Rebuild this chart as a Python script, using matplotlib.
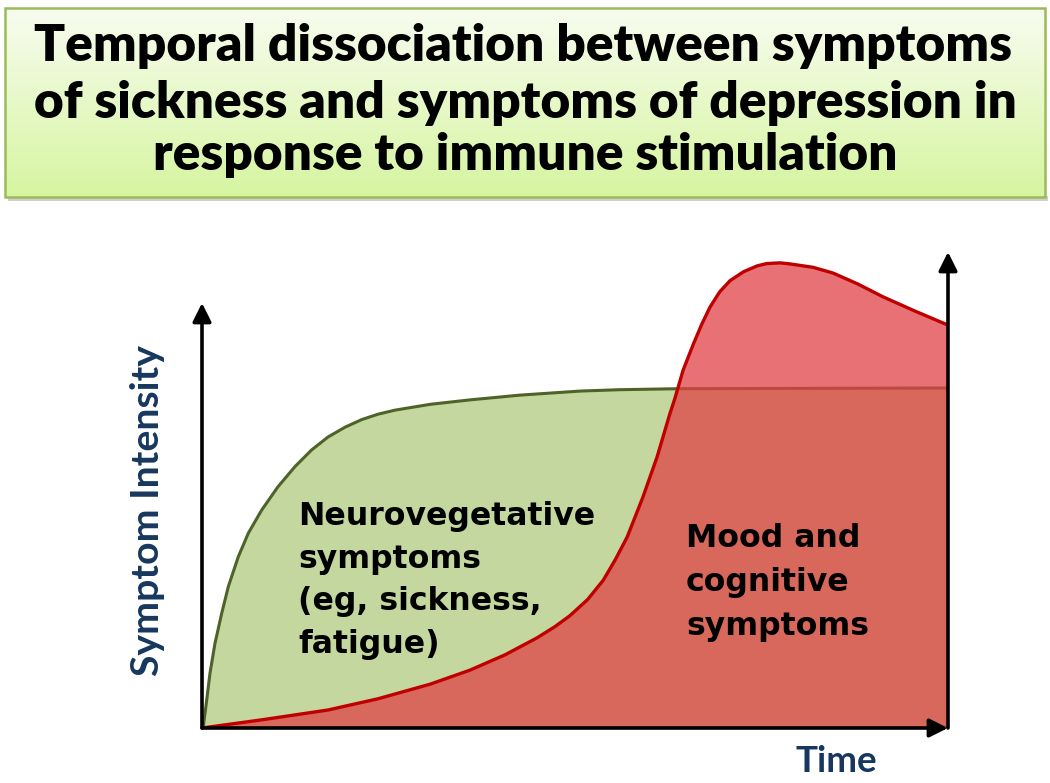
import numpy as np
import matplotlib
matplotlib.use("Agg")
import matplotlib.pyplot as plt
from matplotlib.patches import Rectangle

plt.rcParams['font.family'] = ['DejaVu Sans']

# ---- data ----
title_lines = ["Temporal dissociation between symptoms",
               "of sickness and symptoms of depression in",
               "response to immune stimulation"]
y_label = "Symptom Intensity"
x_label = "Time"
green_lines = ["Neurovegetative", "symptoms", "(eg, sickness,", "fatigue)"]
red_lines = ["Mood and", "cognitive", "symptoms"]

time_green = [0, 0.17, 0.63, 1.07, 1.74, 2.64, 3.53, 4.87, 6.21, 8.0, 10.2,
              12.47, 14.7, 16.9, 19.2, 21.4, 23.6, 25.9, 30.6, 35.9, 42.6,
              50.7, 56.0, 64.1, 100]
intensity_green = [0, 0.4, 8.2, 16.1, 24.9, 33.7, 41.6, 50.4, 57.3, 64.1, 71.0,
                   76.9, 81.8, 85.6, 88.5, 90.7, 92.3, 93.5, 95.2, 96.5, 97.9,
                   99.1, 99.5, 99.8, 100]

time_red = [0, 8.0, 16.9, 23.6, 30.6, 35.9, 40.6, 44.9, 47.3, 49.3, 51.7,
            53.8, 55.4, 57.0, 59.1, 61.0, 62.7, 63.4, 64.5, 65.9, 67.0, 68.1,
            69.4, 70.8, 72.6, 74.4, 75.7, 77.5, 78.8, 81.9, 84.6, 87.9,
            91.3, 95.6, 100]
intensity_red = [0, 2.4, 5.3, 8.6, 12.9, 17.0, 21.5, 26.5, 29.8, 33.0, 37.8,
                 43.5, 49.5, 56.2, 67.9, 79.7, 92.3, 97.0, 105.3, 113.1, 118.8, 123.8,
                 128.3, 131.6, 134.2, 135.9, 136.6, 136.8, 136.5, 135.5, 133.8, 130.6,
                 126.8, 122.6, 118.5]

W, H = 1050, 783
fig = plt.figure(figsize=(W / 100, H / 100), dpi=100)
renderer = fig.canvas.get_renderer()


def fit_width(txt, target_px, vertical=False):
    ext = txt.get_window_extent(renderer=renderer)
    cur = ext.height if vertical else ext.width
    txt.set_fontsize(txt.get_fontsize() * target_px / cur)
    return txt.get_fontsize()


# ---- title box with gradient ----
bg = fig.add_axes([0, 0, 1, 1])
bg.set_xlim(0, W)
bg.set_ylim(H, 0)
bg.axis('off')
bg.add_patch(Rectangle((8, 196), 1040, 5, facecolor='#cfcfcf', edgecolor='none', zorder=1))
top = np.array([248, 252, 240]) / 255
bot = np.array([214, 245, 160]) / 255
grad = np.linspace(0, 1, 256)[:, None, None]
img = np.repeat(top + (bot - top) * grad, 2, axis=1)
bg.imshow(img, extent=[5, 1045, 197, 8], aspect='auto', zorder=2)
bg.add_patch(Rectangle((5, 8), 1040, 189, facecolor='none', edgecolor='#9bbb59', lw=1.8, zorder=3))

title_font = ['Lato', 'DejaVu Sans']
title_base = [61, 118, 170]
t0 = bg.text(523, title_base[0], title_lines[0], fontsize=30, fontweight='heavy',
             family=title_font, ha='center', va='baseline', zorder=4)
fs = fit_width(t0, 975)
for ln, yy in zip(title_lines[1:], title_base[1:]):
    bg.text(525, yy, ln, fontsize=fs, fontweight='heavy', family=title_font,
            ha='center', va='baseline', zorder=4)

# ---- chart ----
x0, x1 = 202, 948
ybase, ytop = 728, 252
ax = fig.add_axes([x0 / W, (H - ybase) / H, (x1 - x0) / W, (ybase - ytop) / H])
ax.set_xlim(0, 100)
ax.set_ylim(0, 140)
ax.axis('off')

green_fill = '#c4d79f'
green_line = '#4f6228'
red_col = '#e04246'
red_line = '#c00000'

ax.fill_between(time_green, intensity_green, 0, color=green_fill, lw=0, zorder=1)
ax.plot(time_green, intensity_green, color=green_line, lw=2.2, zorder=2,
        solid_capstyle='round', solid_joinstyle='round')
ax.fill_between(time_red, intensity_red, 0, color=red_col, alpha=0.75, lw=0, zorder=3)
ax.plot(time_red, intensity_red, color=red_line, lw=2.4, zorder=4, solid_joinstyle='round')

arrow_kw = dict(arrowstyle='-|>', lw=2.6, color='black', mutation_scale=28, shrinkA=0, shrinkB=0)
ax.annotate('', xy=(0, 125), xytext=(0, 0), arrowprops=arrow_kw, annotation_clip=False, zorder=6)
ax.annotate('', xy=(100, 0), xytext=(0, 0), arrowprops=arrow_kw, annotation_clip=False, zorder=6)
ax.annotate('', xy=(100, 140), xytext=(100, 0), arrowprops=arrow_kw, annotation_clip=False, zorder=6)

# ---- labels (pixel positions through the background axes transform) ----
px = bg.transData
navy = '#17375e'
lab_font = ['Lato', 'DejaVu Sans']
ty = bg.text(159, 510, y_label, rotation=90, rotation_mode='anchor', ha='center',
             va='baseline', fontsize=24, fontweight='bold', family=lab_font, color=navy)
fit_width(ty, 332, vertical=True)
tx = bg.text(836, 772, x_label, ha='center', va='baseline', fontsize=24,
             fontweight='bold', family=lab_font, color=navy)
fit_width(tx, 82)

g0 = ax.text(298, 525, green_lines[0], transform=px, ha='left', va='baseline',
             fontsize=20, fontweight='bold', zorder=10, clip_on=False)
gfs = fit_width(g0, 298)
for ln, yy in zip(green_lines[1:], [568, 610, 653]):
    ax.text(298, yy, ln, transform=px, ha='left', va='baseline', fontsize=gfs,
            fontweight='bold', zorder=10, clip_on=False)
for ln, yy in zip(red_lines, [547, 591, 635]):
    ax.text(686, yy, ln, transform=px, ha='left', va='baseline', fontsize=gfs,
            fontweight='bold', zorder=10, clip_on=False)

fig.savefig('out.png', dpi=100)
